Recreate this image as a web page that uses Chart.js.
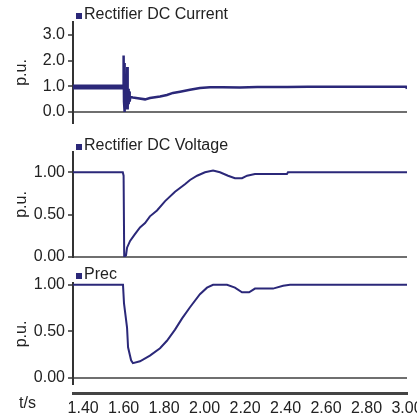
<!DOCTYPE html>
<html>
<head>
<meta charset="utf-8">
<script src="https://cdn.jsdelivr.net/npm/chart.js@4.4.0/dist/chart.umd.min.js"></script>
<style>
  body { margin: 0; background: #fff; }
  #wrap { position: relative; width: 417px; height: 420px; overflow: hidden; }
  canvas { position: absolute; left: 0; }
</style>
</head>
<body>
<div id="wrap">
  <canvas id="c1" width="417" height="130" style="top:0px"></canvas>
  <canvas id="c2" width="417" height="132" style="top:130px"></canvas>
  <canvas id="c3" width="417" height="123" style="top:262px"></canvas>
  <canvas id="c4" width="417" height="35" style="top:385px"></canvas>
</div>
<script>
// time axis (s)
var xTicks = [1.4, 1.6, 1.8, 2.0, 2.2, 2.4, 2.6, 2.8, 3.0];

// Rectifier DC Current (p.u.)
var currentT = [1.35, 1.598, 1.600, 1.602, 1.604, 1.606, 1.608, 1.610, 1.612, 1.615, 1.618, 1.620, 1.622, 1.625, 1.627, 1.630, 1.633, 1.646, 1.670, 1.706, 1.730, 1.780, 1.814, 1.844, 1.879, 1.928, 1.977, 2.027, 2.090, 2.175, 2.260, 2.410, 2.510, 2.995, 3.0];
var currentV = [0.97, 0.97, 2.2, 0.4, 1.9, 0.0, 1.2, 0.1, 1.0, 0.2, 1.75, 0.1, 0.9, 0.3, 0.8, 0.4, 0.58, 0.56, 0.53, 0.49, 0.54, 0.6, 0.66, 0.74, 0.79, 0.86, 0.93, 0.96, 0.96, 0.95, 0.97, 0.97, 0.98, 0.98, 0.9];
var currentTicks = [0, 1, 2, 3];

// Rectifier DC Voltage (p.u.)
var voltageT = [1.35, 1.596, 1.600, 1.603, 1.612, 1.617, 1.632, 1.656, 1.681, 1.706, 1.730, 1.765, 1.805, 1.854, 1.903, 1.928, 1.963, 2.002, 2.042, 2.076, 2.116, 2.150, 2.185, 2.210, 2.249, 2.407, 2.412, 3.0];
var voltageV = [1.0, 1.0, 0.96, 0.0, 0.02, 0.11, 0.19, 0.27, 0.35, 0.40, 0.48, 0.55, 0.66, 0.77, 0.86, 0.91, 0.96, 1.0, 1.02, 1.0, 0.96, 0.93, 0.93, 0.96, 0.98, 0.98, 1.0, 1.0];
var voltageTicks = [0, 0.5, 1];

// Prec (p.u.)
var precT = [1.35, 1.597, 1.602, 1.617, 1.622, 1.637, 1.646, 1.681, 1.730, 1.780, 1.814, 1.854, 1.889, 1.928, 1.977, 2.012, 2.042, 2.111, 2.150, 2.185, 2.220, 2.249, 2.338, 2.388, 2.422, 3.0];
var precV = [1.0, 1.0, 0.80, 0.54, 0.33, 0.19, 0.16, 0.18, 0.24, 0.32, 0.40, 0.52, 0.64, 0.76, 0.90, 0.97, 1.0, 1.0, 0.97, 0.92, 0.92, 0.96, 0.96, 0.99, 1.0, 1.0];
var precTicks = [0, 0.5, 1];

var lineColor = "#2b2879";
var textColor = "#222";
var fontFam = '"Liberation Sans", Arial, sans-serif';

Chart.defaults.font.family = fontFam;
Chart.defaults.font.size = 16;
Chart.defaults.color = textColor;

// small legend drawn at the top left of each panel
var panelLegend = {
  id: "panelLegend",
  afterDraw: function (chart, args, opts) {
    if (!opts.y) return;
    var ds = chart.data.datasets[0];
    var ctx = chart.ctx;
    var x = chart.chartArea.left + 3;
    ctx.save();
    ctx.fillStyle = ds.borderColor;
    ctx.fillRect(x, opts.y - 2, 6, 6);
    ctx.fillStyle = textColor;
    ctx.font = "16px " + fontFam;
    ctx.textBaseline = "middle";
    ctx.fillText(ds.label, x + 8, opts.y);
    ctx.restore();
  }
};

var cornerText = {
  id: "cornerText",
  afterDraw: function (chart, args, opts) {
    if (!opts.text) return;
    var ctx = chart.ctx;
    ctx.save();
    ctx.fillStyle = textColor;
    ctx.font = "16px " + fontFam;
    ctx.textBaseline = "middle";
    ctx.fillText(opts.text, opts.x, opts.y);
    ctx.restore();
  }
};

function makePanel(id, label, ts, vs, yMin, yMax, yTicks, digits, padTop, padBottom, legendY, width, thickUntil) {
  var pts = ts.map(function (t, i) { return { x: t, y: vs[i] }; });
  return new Chart(document.getElementById(id), {
    type: "line",
    data: {
      datasets: [{
        label: label,
        data: pts,
        borderColor: lineColor,
        borderWidth: width,
        pointRadius: 0,
        tension: 0,
        fill: false,
        segment: {
          borderWidth: function (c) {
            return thickUntil && c.p1.parsed.x <= thickUntil ? 5 : undefined;
          }
        }
      }]
    },
    options: {
      responsive: false,
      animation: false,
      layout: { padding: { top: padTop, bottom: padBottom, left: 0, right: 10 } },
      plugins: {
        legend: { display: false },
        tooltip: { enabled: false },
        panelLegend: { y: legendY }
      },
      scales: {
        x: { type: "linear", min: 1.35, max: 3.0, display: false },
        y: {
          min: yMin,
          max: yMax,
          afterBuildTicks: function (s) {
            s.ticks = yTicks.map(function (v) { return { value: v }; });
          },
          afterFit: function (s) {
            s.width = 73;
            s.paddingTop = 0;
            s.paddingBottom = 0;
          },
          ticks: {
            padding: 3,
            color: textColor,
            callback: function (v) { return Number(v).toFixed(digits); }
          },
          grid: {
            color: function (c) {
              return c.tick && c.tick.value === 0 ? "#6f6f6f" : "rgba(0,0,0,0)";
            },
            lineWidth: 2,
            tickLength: 5,
            tickColor: "#333",
            tickWidth: 1.5
          },
          border: { color: "#333", width: 2 },
          title: {
            display: true,
            text: "p.u.",
            color: textColor,
            padding: { top: 12, bottom: 0 }
          }
        }
      }
    },
    plugins: [panelLegend]
  });
}

makePanel("c1", "Rectifier DC Current", currentT, currentV, -0.43, 3.5, currentTicks, 1, 22, 7, 15, 2.5, 1.598);
makePanel("c2", "Rectifier DC Voltage", voltageT, voltageV, 0, 1.24, voltageTicks, 2, 22, 5, 16, 2, 0);
makePanel("c3", "Prec", precT, precV, -0.075, 1.02, precTicks, 2, 21, 0, 13, 2, 0);

// shared time axis
new Chart(document.getElementById("c4"), {
  type: "line",
  data: { datasets: [] },
  options: {
    responsive: false,
    animation: false,
    layout: { padding: { top: 0, bottom: 0, left: 73, right: 10 } },
    plugins: {
      legend: { display: false },
      tooltip: { enabled: false },
      cornerText: { text: "t/s", x: 19, y: 19 }
    },
    scales: {
      x: {
        type: "linear",
        min: 1.35,
        max: 3.0,
        afterBuildTicks: function (s) {
          s.ticks = xTicks.map(function (v) { return { value: v }; });
        },
        afterFit: function (s) {
          s.height = 27;
          s.paddingLeft = 0;
          s.paddingRight = 0;
        },
        ticks: {
          padding: 6,
          maxRotation: 0,
          autoSkip: false,
          color: textColor,
          callback: function (v) { return Number(v).toFixed(2); }
        },
        grid: { drawOnChartArea: false, drawTicks: false, tickLength: 0 },
        border: { display: true, color: "#444", width: 3 }
      },
      y: { display: false, min: 0, max: 1 }
    }
  },
  plugins: [cornerText]
});
</script>
</body>
</html>
